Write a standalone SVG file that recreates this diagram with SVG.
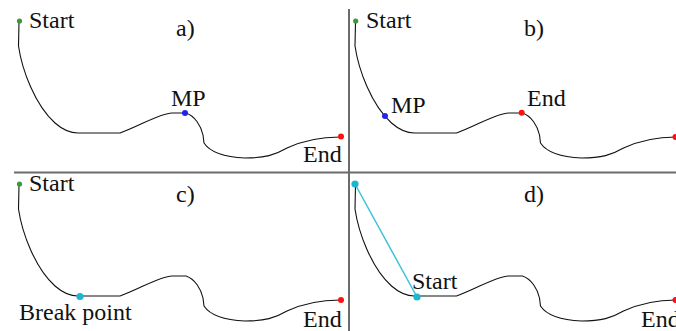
<svg xmlns="http://www.w3.org/2000/svg" xmlns:xlink="http://www.w3.org/1999/xlink" width="676" height="331" viewBox="0 0 676 331">
<style>
.curve{fill:none;stroke:#111;stroke-width:1.1}
.div{stroke:#6b6b6b;stroke-width:2}
.g{fill:#3a9a3a}.b{fill:#2323ee}.r{fill:#ff1010}.c{fill:#1db5cf}
text{font-family:'Liberation Serif','Times New Roman',serif;font-size:24px;fill:#111}
</style>
<defs>
<path id="curve" d="M19,22 L18.5,46 C22,70 35,105 55,123 C63,130 70,133 78,133 L120,133 C140,126 160,113 172,113 L186,113 C195,116 201,126 203,135 L204,143 C210,152 222,157 245,158 C265,158 275,155 287,148 C300,142 315,137 340,137"/>
</defs>
<rect width="676" height="331" fill="#fff"/>
<g id="connectors">
<line class="div" x1="14" y1="172.5" x2="676" y2="172.5"/>
<line class="div" x1="349" y1="9" x2="349" y2="331"/>
<use xlink:href="#curve" class="curve"/>
<use xlink:href="#curve" class="curve" transform="translate(336.5,0)"/>
<use xlink:href="#curve" class="curve" transform="translate(0,163)"/>
<use xlink:href="#curve" class="curve" transform="translate(336.5,163)"/>
<line x1="355" y1="184" x2="417" y2="297" stroke="#3cc3d8" stroke-width="1.5"/>
</g>
<g id="panel-a">
<circle class="g" cx="19.5" cy="21" r="2.6"/>
<text x="29" y="28">Start</text>
<text x="176" y="36">a)</text>
<circle class="b" cx="185" cy="113" r="3"/>
<text x="171" y="106">MP</text>
<circle class="r" cx="341" cy="136.5" r="3"/>
<text x="303" y="162">End</text>
</g>
<g id="panel-b">
<circle class="g" cx="355.7" cy="21" r="2.6"/>
<text x="366" y="28">Start</text>
<text x="524" y="36">b)</text>
<circle class="b" cx="385" cy="116" r="3"/>
<text x="391" y="113">MP</text>
<circle class="r" cx="521.7" cy="112.7" r="3"/>
<text x="527" y="106">End</text>
<circle class="r" cx="675.5" cy="137" r="3"/>
</g>
<g id="panel-c">
<circle class="g" cx="19.5" cy="184" r="2.6"/>
<text x="29" y="191">Start</text>
<text x="176" y="202">c)</text>
<circle class="c" cx="80" cy="296.5" r="3.6"/>
<text x="19" y="320">Break point</text>
<circle class="r" cx="341" cy="300" r="3"/>
<text x="303" y="327">End</text>
</g>
<g id="panel-d">
<circle class="c" cx="355" cy="184" r="3.6"/>
<text x="524" y="202">d)</text>
<circle class="c" cx="417" cy="297" r="3.6"/>
<text x="412" y="289">Start</text>
<circle class="r" cx="675.5" cy="300" r="3"/>
<text x="641" y="327">End</text>
</g>
</svg>
